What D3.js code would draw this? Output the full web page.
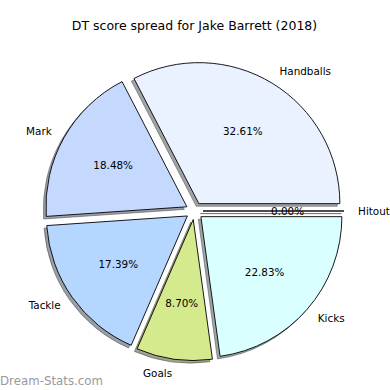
<!DOCTYPE html>
<html>
<head>
<meta charset="utf-8">
<script src="https://cdn.jsdelivr.net/npm/d3@7/dist/d3.min.js"></script>
<style>
  html, body { margin: 0; padding: 0; background: #fff; }
  svg { display: block; font-family: "DejaVu Sans", sans-serif; }
</style>
</head>
<body>
<div id="chart"></div>
<script>
const title = "DT score spread for Jake Barrett (2018)";
const categories = ["Handballs", "Mark", "Tackle", "Goals", "Kicks", "Hitout"];
const values = [30, 17, 16, 8, 21, 0];
const colors = ["#eaf1ff", "#c5d9ff", "#b5d6ff", "#d4ea8d", "#daffff", "#e0e0e0"];
const watermark = "Dream-Stats.com";

const W = 390, H = 390;
const cx = 194.4, cy = 211;
const R = 141;
const explode = 0.061;     // fraction of radius
const pctDist = 0.6, labelDist = 1.1;
const shadowOff = 2.6;

const svg = d3.select("#chart").append("svg")
  .attr("width", W).attr("height", H);

svg.append("rect").attr("width", W).attr("height", H).attr("fill", "#fff");

svg.append("text")
  .attr("x", 194.5).attr("y", 29.5)
  .attr("text-anchor", "middle")
  .attr("font-size", "12.5px")
  .attr("fill", "#000")
  .text(title);

const total = d3.sum(values);
const color = d3.scaleOrdinal().domain(categories).range(colors);

// counter-clockwise from 3 o'clock, like matplotlib
const pie = d3.pie().sort(null).value(d => d.v)
  .startAngle(Math.PI / 2).endAngle(Math.PI / 2 - 2 * Math.PI);
const data = categories.map((c, i) => ({ c, v: values[i] }));
const arcs = pie(data);
const arc = d3.arc().innerRadius(0).outerRadius(R);

function mid(d) { return (d.startAngle + d.endAngle) / 2; }
function dirXY(a) { return [Math.sin(a), -Math.cos(a)]; }

const g = svg.append("g").attr("transform", `translate(${cx},${cy})`);

// shadows
g.selectAll("path.shadow").data(arcs).enter().append("path")
  .attr("class", "shadow")
  .attr("d", arc)
  .attr("transform", d => {
    const [dx, dy] = dirXY(mid(d));
    return `translate(${dx * explode * R - shadowOff},${dy * explode * R + shadowOff})`;
  })
  .attr("fill", d => {
    const c = d3.rgb(color(d.data.c));
    return `rgba(${c.r * 0.3},${c.g * 0.3},${c.b * 0.3},0.5)`;
  })
  .attr("stroke", d => {
    const c = d3.rgb(color(d.data.c));
    return `rgba(${c.r * 0.3},${c.g * 0.3},${c.b * 0.3},0.5)`;
  })
  .attr("stroke-width", 1);

// wedges
g.selectAll("path.wedge").data(arcs).enter().append("path")
  .attr("class", "wedge")
  .attr("d", arc)
  .attr("transform", d => {
    const [dx, dy] = dirXY(mid(d));
    return `translate(${dx * explode * R},${dy * explode * R})`;
  })
  .attr("fill", d => color(d.data.c))
  .attr("stroke", "#000")
  .attr("stroke-width", 0.9)
  .attr("stroke-linejoin", "miter");

// percentage labels
g.selectAll("text.pct").data(arcs).enter().append("text")
  .attr("class", "pct")
  .attr("x", d => dirXY(mid(d))[0] * (explode + pctDist) * R)
  .attr("y", d => dirXY(mid(d))[1] * (explode + pctDist) * R)
  .attr("dy", "0.36em")
  .attr("text-anchor", "middle")
  .attr("font-size", "10.4px")
  .attr("fill", "#000")
  .text(d => (100 * d.data.v / total).toFixed(2) + "%");

// category labels
g.selectAll("text.lab").data(arcs).enter().append("text")
  .attr("class", "lab")
  .attr("x", d => dirXY(mid(d))[0] * (explode + labelDist) * R)
  .attr("y", d => dirXY(mid(d))[1] * (explode + labelDist) * R)
  .attr("dy", "0.36em")
  .attr("text-anchor", d => dirXY(mid(d))[0] > 1e-9 ? "start" : "end")
  .attr("font-size", "10.4px")
  .attr("fill", "#000")
  .text(d => d.data.c);

svg.append("text")
  .attr("x", 0).attr("y", 385)
  .attr("font-size", "11.8px")
  .attr("fill", "#9a9a9a")
  .text(watermark);
</script>
</body>
</html>
